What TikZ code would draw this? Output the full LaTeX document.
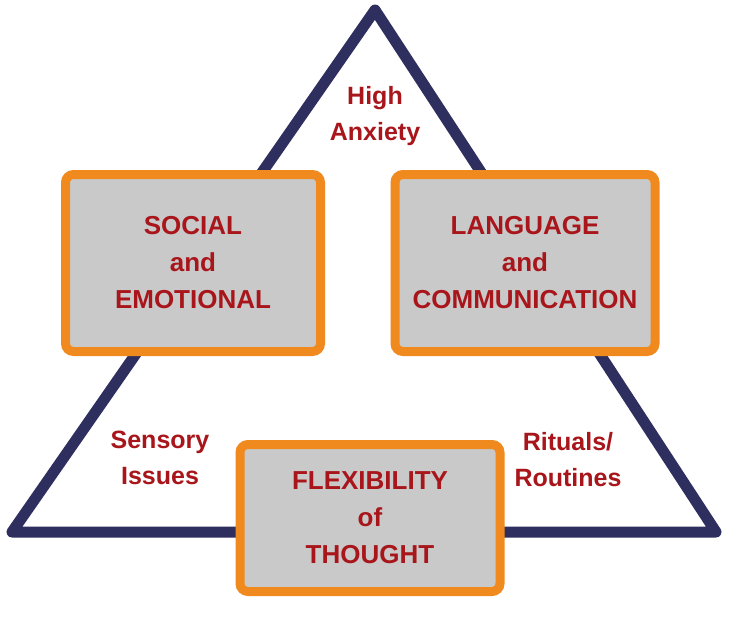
\documentclass[tikz,border=0pt]{standalone}
\usepackage{fontspec}
\setmainfont{Liberation Sans}
\definecolor{navy}{HTML}{2E2F5E}
\definecolor{orng}{HTML}{F08A1E}
\definecolor{boxg}{HTML}{C9C9C9}
\definecolor{txtred}{HTML}{A8161B}
\begin{document}
\begin{tikzpicture}[x=1pt,y=-1pt,
  box/.style={draw=orng,line width=9pt,fill=boxg,rounded corners=8pt},
  lbl/.style={text=txtred,font=\bfseries\fontsize{26}{37}\selectfont,align=center}]
\useasboundingbox (0,0) rectangle (730,635);
\fill[white] (0,0) rectangle (730,635);
\draw[navy,line width=11pt,line join=round,fill=white] (375,10) -- (716,532) -- (12,532) -- cycle;
\node[box,minimum width=255pt,minimum height=177pt] (se) at (193,263) {};
\node[box,minimum width=260pt,minimum height=177pt] (lc) at (525,263) {};
\node[box,minimum width=260pt,minimum height=147pt] (ft) at (370,518) {};
\node[lbl] (se-t) at (se) {SOCIAL\\and\\EMOTIONAL};
\node[lbl] (lc-t) at (lc) {LANGUAGE\\and\\COMMUNICATION};
\node[lbl] (ft-t) at (ft) {FLEXIBILITY\\of\\THOUGHT};
\node[lbl,font=\bfseries\fontsize{25}{36}\selectfont] (ha) at (375,116) {High\\Anxiety};
\node[lbl,font=\bfseries\fontsize{25}{36}\selectfont] (si) at (160,458) {Sensory\\Issues};
\node[lbl,font=\bfseries\fontsize{25}{36}\selectfont] (rr) at (568,460) {Rituals/\\Routines};
\end{tikzpicture}
\end{document}
